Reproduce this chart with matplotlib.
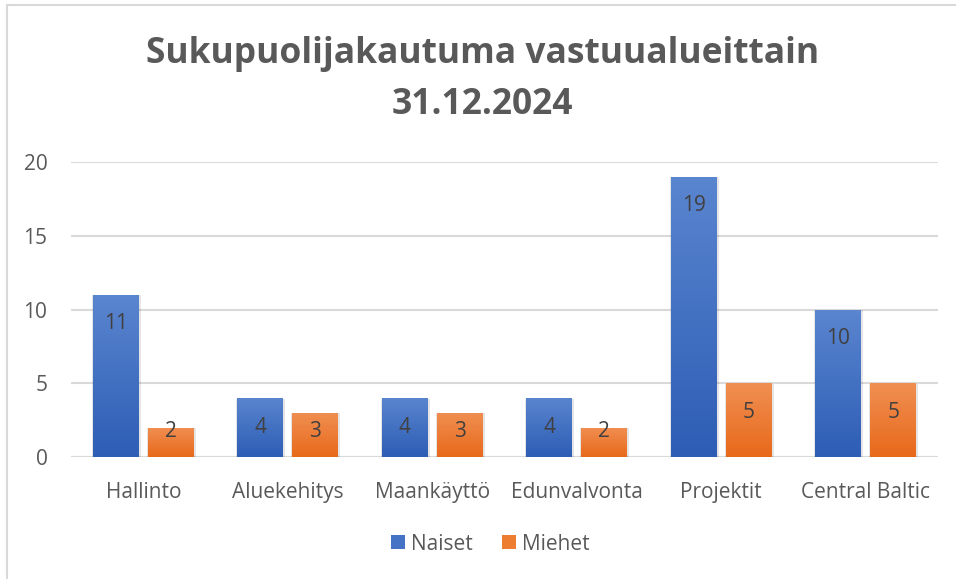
import numpy as np
import matplotlib
matplotlib.use("Agg")
import matplotlib.pyplot as plt
from matplotlib.colors import LinearSegmentedColormap
from matplotlib.patches import Rectangle
from matplotlib.lines import Line2D

categories = ["Hallinto", "Aluekehitys", "Maankäyttö", "Edunvalvonta", "Projektit", "Central Baltic"]
naiset = [11, 4, 4, 4, 19, 10]
miehet = [2, 3, 3, 2, 5, 5]
series_names = ["Naiset", "Miehet"]
title = "Sukupuolijakautuma vastuualueittain\n31.12.2024"

plt.rcParams["font.family"] = ["Open Sans", "DejaVu Sans"]

blue_grad = LinearSegmentedColormap.from_list("b", ["#2d5db5", "#5a85cf"])
orange_grad = LinearSegmentedColormap.from_list("o", ["#e8691a", "#f08f52"])

fig = plt.figure(figsize=(9.56, 5.79), dpi=100)
ax = fig.add_axes([71 / 956, 0.2107, (938 - 71) / 956, 0.5095])

x = np.arange(len(categories))
width = 0.318
offset = 0.19


def gradient_bars(xs, vals, cmap):
    bars = ax.bar(xs, vals, width, color="none", edgecolor="none", zorder=3)
    grad = np.linspace(0, 1, 256).reshape(-1, 1)
    for b in bars:
        x0, y0 = b.get_x(), b.get_y()
        w, h = b.get_width(), b.get_height()
        # soft shadow
        sh = Rectangle((x0 - 0.006, y0 - 0.08), w + 0.02, h + 0.04, facecolor="#000000",
                       alpha=0.10, edgecolor="none", zorder=2)
        ax.add_patch(sh)
        im = ax.imshow(grad, cmap=cmap, aspect="auto", origin="lower",
                       extent=[x0, x0 + w, y0, y0 + h], zorder=3)
        clip = Rectangle((x0, y0), w, h, transform=ax.transData)
        im.set_clip_path(clip)
    return bars


gradient_bars(x - offset, naiset, blue_grad)
gradient_bars(x + offset, miehet, orange_grad)

for xs, vals in [(x - offset, naiset), (x + offset, miehet)]:
    for xi, v in zip(xs, vals):
        ax.text(xi, max(v - 1.97, 1.7), str(v), ha="center", va="center",
                fontsize=15, color="#404040", zorder=5)

ax.set_xlim(-0.5, len(categories) - 0.5)
ax.set_ylim(0, 20)
ax.set_yticks([0, 5, 10, 15, 20])
ax.set_xticks(x)
ax.set_xticklabels(categories)
ax.tick_params(axis="both", length=0, labelsize=15, labelcolor="#595959")
ax.tick_params(axis="x", pad=18)
ax.tick_params(axis="y", pad=17)
ax.yaxis.grid(True, color="#d9d9d9", linewidth=1.5, zorder=0)
ax.set_axisbelow(True)
for s in ax.spines.values():
    s.set_visible(False)
ax.axhline(0, color="#d9d9d9", linewidth=1.5, zorder=1)

fig.text(0.505, 0.863, title, ha="center", va="center", fontsize=25.5, fontweight="bold",
         color="#595959", linespacing=1.55)

handles = [Rectangle((0, 0), 1, 1, facecolor="#4472c4"),
           Rectangle((0, 0), 1, 1, facecolor="#ed7d31")]
fig.legend(handles, series_names, loc="center", bbox_to_anchor=(0.513, 0.06), ncol=2,
           frameon=False, fontsize=15, labelcolor="#595959", handlelength=0.65,
           handleheight=0.65, handletextpad=0.3, columnspacing=1.4)

# chart border (left and top edge visible)
fig.add_artist(Line2D([7 / 956, 7 / 956], [0, 1 - 5 / 579], color="#d9d9d9", linewidth=1.5))
fig.add_artist(Line2D([7 / 956, 1], [1 - 5 / 579, 1 - 5 / 579], color="#d9d9d9", linewidth=1.5))

fig.savefig("out.png", dpi=100, facecolor="white")
